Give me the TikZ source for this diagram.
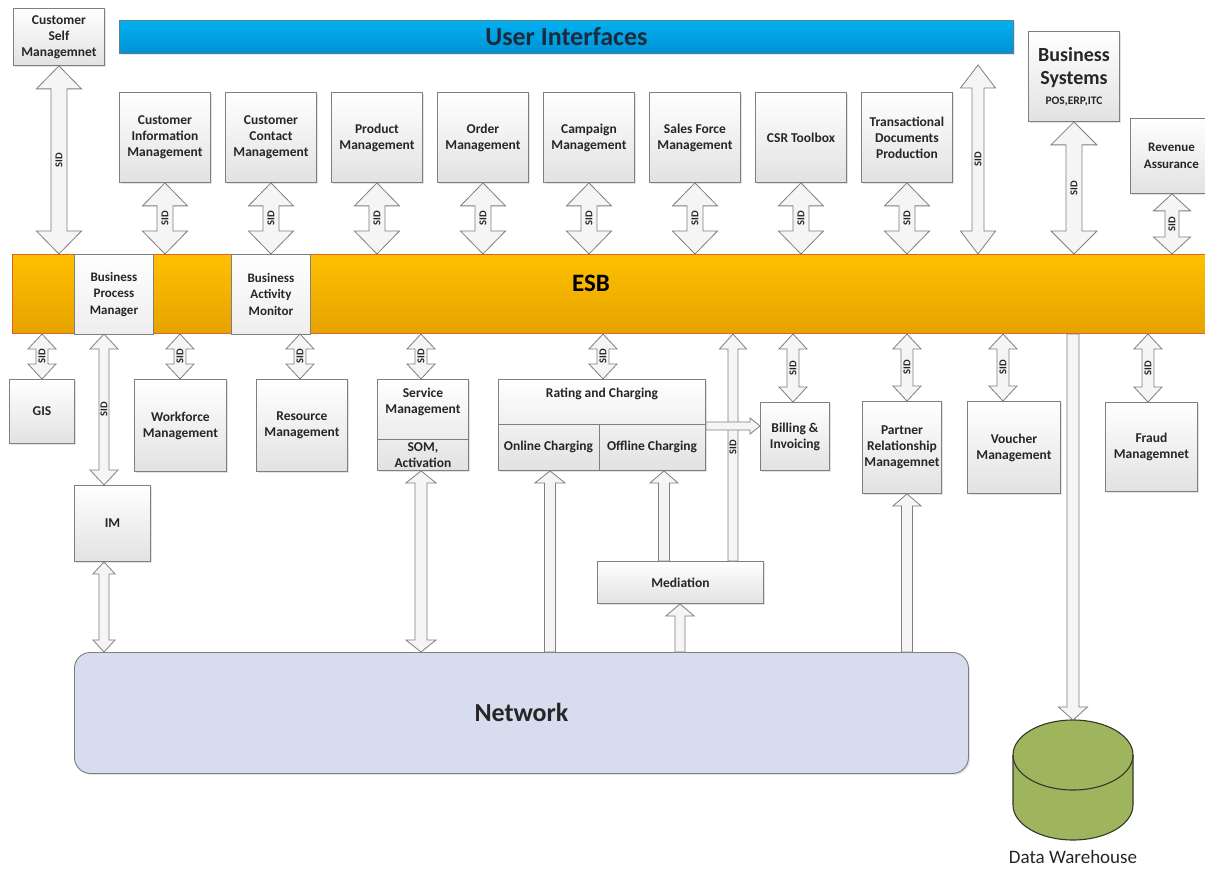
\documentclass[tikz,border=0pt]{standalone}
\usepackage{fontspec}
\setmainfont{Carlito}
\usetikzlibrary{calc,shadows}

\definecolor{boxline}{HTML}{7F7F7F}
\definecolor{boxbot}{HTML}{E2E2E2}
\definecolor{uitop}{HTML}{00B0F0}
\definecolor{uibot}{HTML}{0092D2}
\definecolor{uiline}{HTML}{5F7D8C}
\definecolor{esbtop}{HTML}{FFC000}
\definecolor{esbbot}{HTML}{E6A300}
\definecolor{esbline}{HTML}{E0622A}
\definecolor{netfill}{HTML}{D7DCEF}
\definecolor{dwfill}{HTML}{9EB55E}
\definecolor{dwline}{HTML}{333828}
\definecolor{txt}{HTML}{262626}
\definecolor{uitxt}{HTML}{1C2A40}
\definecolor{arrfill}{HTML}{F5F5F5}

\newcommand\bxf{\fontsize{13.5}{16}\selectfont\bfseries}
\newcommand\smf{\fontsize{13}{16.5}\selectfont\bfseries}
\newcommand\bigf{\fontsize{26}{30}\selectfont\bfseries}

\tikzset{
  box/.style={draw=boxline, line width=0.9pt, top color=white, bottom color=boxbot,
    drop shadow={shadow xshift=1.5pt, shadow yshift=-1.5pt, opacity=0.22},
    align=center, font=\bxf, text=txt, inner sep=2pt, anchor=north west},
  esbbox/.style={draw=boxline, line width=0.9pt, top color=white, bottom color=boxbot!60,
    align=center, font=\smf, text=txt, inner sep=2pt, anchor=north west},
  lbl/.style={align=center, font=\bxf, text=txt, inner sep=1pt},
  divider/.style={draw=boxline, line width=0.9pt},
  blockarrow/.style={draw=boxline, fill=arrfill, line width=0.8pt, line join=miter},
  sidlbl/.style={rotate=90, font=\fontsize{10.5}{11}\selectfont\bfseries, text=txt, inner sep=0pt},
}

\newcounter{sidc}
\newcommand{\arrowlabel}[3]{\if\relax\detokenize{#3}\relax\else
  \stepcounter{sidc}\edef\sidname{sid\arabic{sidc}}%
  \node[sidlbl] (\sidname) at ($(#1)!0.5!(#2)$) {#3};\fi}
% double block arrow: top end, bottom end, half head, half shaft, head length, label
\newcommand{\blkdbl}[6]{%
  \draw[blockarrow] let \p1=(#1), \p2=(#2) in
    (\x1,\y1) -- (\x1+#3pt,\y1-#5pt) -- (\x1+#4pt,\y1-#5pt) -- (\x1+#4pt,\y2+#5pt)
    -- (\x1+#3pt,\y2+#5pt) -- (\x1,\y2) -- (\x1-#3pt,\y2+#5pt) -- (\x1-#4pt,\y2+#5pt)
    -- (\x1-#4pt,\y1-#5pt) -- (\x1-#3pt,\y1-#5pt) -- cycle;
  \arrowlabel{#1}{#2}{#6}}
% upward block arrow: tip (top), tail (bottom), half head, half shaft, head length, label
\newcommand{\blkup}[6]{%
  \draw[blockarrow] let \p1=(#1), \p2=(#2) in
    (\x1,\y1) -- (\x1+#3pt,\y1-#5pt) -- (\x1+#4pt,\y1-#5pt) -- (\x1+#4pt,\y2)
    -- (\x1-#4pt,\y2) -- (\x1-#4pt,\y1-#5pt) -- (\x1-#3pt,\y1-#5pt) -- cycle;
  \arrowlabel{#1}{#2}{#6}}
% downward block arrow: tail (top), tip (bottom), half head, half shaft, head length
\newcommand{\blkdown}[5]{%
  \draw[blockarrow] let \p1=(#1), \p2=(#2) in
    (\x1-#4pt,\y1) -- (\x1+#4pt,\y1) -- (\x1+#4pt,\y2+#5pt) -- (\x1+#3pt,\y2+#5pt)
    -- (\x1,\y2) -- (\x1-#3pt,\y2+#5pt) -- (\x1-#4pt,\y2+#5pt) -- cycle;}
% rightward block arrow: tail (left), tip (right), half head, half shaft, head length
\newcommand{\blkright}[5]{%
  \draw[blockarrow] let \p1=(#1), \p2=(#2) in
    (\x1,\y1+#4pt) -- (\x2-#5pt,\y1+#4pt) -- (\x2-#5pt,\y1+#3pt) -- (\x2,\y1)
    -- (\x2-#5pt,\y1-#3pt) -- (\x2-#5pt,\y1-#4pt) -- (\x1,\y1-#4pt) -- cycle;}

\begin{document}
\begin{tikzpicture}[x=1pt,y=-1pt]
\useasboundingbox (0,0) rectangle (1205,869);
\clip (0,0) rectangle (1205,869);
\fill[white] (0,0) rectangle (1205,869);

% ---- user interfaces and top-row applications
\node[box, minimum width=91, minimum height=57] (csm) at (13,8) {Customer\\Self\\Managemnet};
\node[draw=uiline, line width=0.8pt, top color=uitop, bottom color=uibot,
      drop shadow={shadow xshift=1.5pt, shadow yshift=-1.5pt, opacity=0.22},
      anchor=north west, minimum width=894, minimum height=33,
      font=\bigf, text=uitxt] (ui) at (119,20) {User Interfaces};

\node[box, minimum width=91, minimum height=90] (cim) at (119,92) {Customer\\Information\\Management};
\node[box, minimum width=91, minimum height=90] (ccm) at (225,92) {Customer\\Contact\\Management};
\node[box, minimum width=91, minimum height=90] (pm)  at (331,92) {Product\\Management};
\node[box, minimum width=91, minimum height=90] (om)  at (437,92) {Order\\Management};
\node[box, minimum width=91, minimum height=90] (cam) at (543,92) {Campaign\\Management};
\node[box, minimum width=91, minimum height=90] (sfm) at (649,92) {Sales Force\\Management};
\node[box, minimum width=91, minimum height=90] (csr) at (755,92) {CSR Toolbox};
\node[box, minimum width=91, minimum height=90] (tdp) at (861,92) {Transactional\\Documents\\Production};

\node[box, font=\fontsize{20}{23}\selectfont\bfseries, minimum width=91, minimum height=90] (bs) at (1028,31)
  {Business\\Systems\\[-3pt]{\fontsize{11.5}{13}\selectfont\bfseries POS,ERP,ITC}};
\node[box, font=\smf, minimum width=82, minimum height=75] (ra) at (1130,118) {Revenue\\Assurance};

% ---- enterprise service bus
\node[draw=esbline, line width=1pt, top color=esbtop, bottom color=esbbot,
      anchor=north west, minimum width=1210, minimum height=79] (esb) at (12,254) {};
\node[font=\fontsize{25}{28}\selectfont\bfseries, text=black, inner sep=0pt] (esblbl) at (591,283) {ESB};
\node[esbbox, minimum width=79, minimum height=80] (bpm) at (74,254) {Business\\Process\\Manager};
\node[esbbox, minimum width=79, minimum height=80] (bam) at (231,254) {Business\\Activity\\Monitor};

% ---- systems below the bus
\node[box, minimum width=65, minimum height=64] (gis) at (9,379) {GIS};
\node[box, minimum width=92, minimum height=92] (wfm) at (134,379) {Workforce\\Management};
\node[box, minimum width=91, minimum height=92] (rm) at (256,379) {Resource\\Management};

\node[box, minimum width=91, minimum height=91] (sm) at (377,379) {};
\draw[divider] ($(sm.north west)+(0,60)$) -- ($(sm.north east)+(0,60)$);
\node[lbl] (smtop) at ($(sm.north)+(0,23)$) {Service\\Management};
\node[lbl] (smbot) at ($(sm.north)+(0,76)$) {SOM,\\Activation};

\node[box, minimum width=207, minimum height=91] (rc) at (498,379) {};
\draw[divider] ($(rc.north west)+(0,45)$) -- ($(rc.north east)+(0,45)$);
\draw[divider] ($(rc.north west)+(101,45)$) -- ($(rc.south west)+(101,0)$);
\node[lbl] (rctop) at ($(rc.north)+(0,15)$) {Rating and Charging};
\node[lbl] (online) at ($(rc.north west)+(50.5,68)$) {Online Charging};
\node[lbl] (offline) at ($(rc.north west)+(154,68)$) {Offline Charging};

\node[box, minimum width=69, minimum height=68] (bill) at (760,402) {Billing \&\\Invoicing};
\node[box, minimum width=78, minimum height=92] (prm) at (862,401) {Partner\\Relationship\\Managemnet};
\node[box, minimum width=93, minimum height=92] (vm) at (967,401) {Voucher\\Management};
\node[box, minimum width=92, minimum height=89] (fm) at (1105,402) {Fraud\\Managemnet};

\node[box, minimum width=76, minimum height=76] (im) at (74,485) {IM};
\node[box, minimum width=166, minimum height=42] (med) at (597,561) {Mediation};

\node[draw=boxline, line width=0.9pt, fill=netfill, rounded corners=16pt,
      drop shadow={shadow xshift=1.5pt, shadow yshift=-1.5pt, opacity=0.22},
      anchor=north west, minimum width=894, minimum height=121,
      font=\bigf, text=txt] (net) at (74,652) {Network};

% ---- data warehouse
\coordinate (dwtop) at (1073,720);
\filldraw[fill=dwfill, draw=dwline, line width=1.1pt]
  (1013,755) -- (1013,805) arc[start angle=180, end angle=360, x radius=60pt, y radius=35pt]
  -- (1133,755) arc[start angle=0, end angle=180, x radius=60pt, y radius=35pt] -- cycle;
\draw[dwline, line width=1.1pt] (1013,755) arc[start angle=180, end angle=360, x radius=60pt, y radius=35pt];
\node[font=\fontsize{19}{22}\selectfont, text=txt] (dwlbl) at (1073,857) {Data Warehouse};

% ---- arrow tracks
\coordinate (tui)  at (978,0);
\coordinate (uip)  at (978,65);
\coordinate (tbpm) at (104,0);
\coordinate (tra)  at (1172,0);
\coordinate (tprm) at (907,0);
\coordinate (tvm)  at (1003,0);
\coordinate (tfm)  at (1148,0);
\coordinate (ton)  at (550,0);
\coordinate (toff) at (664,0);
\coordinate (tmin) at (680,0);
\coordinate (tmed) at (733,0);
\coordinate (tdw)  at (1073,0);
\coordinate (tsm)  at (421,0);
\coordinate (tgis) at (42,0);
\coordinate (twfm) at (180,0);
\coordinate (trm)  at (300,0);
\coordinate (trc)  at (603,0);
\coordinate (tbil) at (793,0);
\coordinate (hbil) at (0,426);

% ---- arrows above the bus
\blkdbl{csm.south}{csm.south |- esb.north}{22.5}{8}{23}{SID}
\blkdbl{cim.south}{cim.south |- esb.north}{22.5}{8}{23}{SID}
\blkdbl{ccm.south}{ccm.south |- esb.north}{22.5}{8}{23}{SID}
\blkdbl{pm.south}{pm.south |- esb.north}{22.5}{8}{23}{SID}
\blkdbl{om.south}{om.south |- esb.north}{22.5}{8}{23}{SID}
\blkdbl{cam.south}{cam.south |- esb.north}{22.5}{8}{23}{SID}
\blkdbl{sfm.south}{sfm.south |- esb.north}{22.5}{8}{23}{SID}
\blkdbl{csr.south}{csr.south |- esb.north}{22.5}{8}{23}{SID}
\blkdbl{tdp.south}{tdp.south |- esb.north}{22.5}{8}{23}{SID}
\blkdbl{uip}{tui |- esb.north}{17.5}{6}{23}{SID}
\blkdbl{bs.south}{bs.south |- esb.north}{23}{8}{23}{SID}
\blkdbl{ra.south -| tra}{tra |- esb.north}{18.5}{7}{17}{SID}

% ---- arrows below the bus
\blkdbl{tgis |- esb.south}{tgis |- gis.north}{14}{6}{15}{SID}
\blkdbl{tbpm |- esb.south}{tbpm |- im.north}{14}{5}{15}{SID}
\blkdbl{twfm |- esb.south}{twfm |- wfm.north}{14}{6}{15}{SID}
\blkdbl{trm |- esb.south}{trm |- rm.north}{14}{6}{15}{SID}
\blkdbl{tsm |- esb.south}{tsm |- sm.north}{14}{6}{15}{SID}
\blkdbl{trc |- esb.south}{trc |- rc.north}{14}{6}{15}{SID}
\blkdbl{tbil |- esb.south}{tbil |- bill.north}{14}{6}{15}{SID}
\blkdbl{tprm |- esb.south}{tprm |- prm.north}{14}{6}{15}{SID}
\blkdbl{tvm |- esb.south}{tvm |- vm.north}{14}{6}{15}{SID}
\blkdbl{tfm |- esb.south}{tfm |- fm.north}{14}{6}{15}{SID}

\blkdbl{tbpm |- im.south}{tbpm |- net.north}{11}{5}{12}{}
\blkdbl{tsm |- sm.south}{tsm |- net.north}{15}{6}{12}{}
\blkup{ton |- rc.south}{ton |- net.north}{15}{5.5}{12}{}
\blkup{toff |- rc.south}{toff |- med.north}{14}{5.5}{12}{}
\blkup{tmin |- med.south}{tmin |- net.north}{14}{5}{12}{}
\blkup{tmed |- esb.south}{tmed |- med.north}{13.5}{5}{15}{SID}
\blkup{tprm |- prm.south}{tprm |- net.north}{14}{5.5}{12}{}
\blkdown{tdw |- esb.south}{dwtop}{14.5}{6}{13}
\blkright{rc.east |- hbil}{bill.west |- hbil}{8}{4}{10}

\end{tikzpicture}
\end{document}
